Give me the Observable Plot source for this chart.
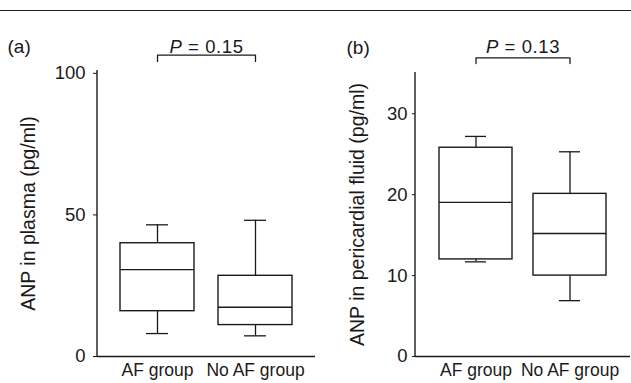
<!DOCTYPE html>
<html>
<head>
<meta charset="utf-8">
<script src="https://cdn.jsdelivr.net/npm/d3@7"></script>
<script src="https://cdn.jsdelivr.net/npm/@observablehq/plot@0.6"></script>
<style>
  html, body { margin: 0; padding: 0; background: #fff; }
  #fig { position: relative; width: 631px; height: 383px; overflow: hidden; background: #fff; }
  #rule { position: absolute; left: 0; top: 10px; width: 631px; height: 0; border-top: 1.5px solid #222; }
  #pa, #pb { position: absolute; top: 0; }
  #pa { left: 0; }
  #pb { left: 311px; }
</style>
</head>
<body>
<div id="fig">
  <div id="rule"></div>
  <div id="pa"></div>
  <div id="pb"></div>
</div>
<script>
// ---- data ----
const categories = ["AF group", "No AF group"];

// panel (a): ANP in plasma (pg/ml)
const plasmaLow    = [8.1, 7.3];
const plasmaQ1     = [16.0, 11.1];
const plasmaMedian = [30.7, 17.4];
const plasmaQ3     = [40.0, 28.5];
const plasmaHigh   = [46.5, 48.1];
const plasmaTicks  = [0, 50, 100];

// panel (b): ANP in pericardial fluid (pg/ml)
const periLow    = [11.7, 6.9];
const periQ1     = [12.0, 10.0];
const periMedian = [19.05, 15.2];
const periQ3     = [25.8, 20.1];
const periHigh   = [27.2, 25.3];
const periTicks  = [0, 10, 20, 30];

const panelLetters = ["(a)", "(b)"];
const pLabels = ["P = 0.15", "P = 0.13"];
const yLabels = ["ANP in plasma (pg/ml)", "ANP in pericardial fluid (pg/ml)"];

// annotation levels (data units) for bracket and p-value
const bracketA = {top: 106.4, leg: 104.2, text: 109.3};
const bracketB = {top: 36.9, leg: 36.2, text: 38.2};

const INK = "#1a1a1a";

function rows(lo, q1, med, q3, hi) {
  return categories.map((c, i) => ({cat: c, lo: lo[i], q1: q1[i], med: med[i], q3: q3[i], hi: hi[i]}));
}

function panel(opts) {
  const data = rows(...opts.values);
  const br = opts.bracket;
  const bracketPts = [
    {cat: categories[0], y: br.leg},
    {cat: categories[0], y: br.top},
    {cat: categories[1], y: br.top},
    {cat: categories[1], y: br.leg}
  ];
  const axisLine = (index, scales, values, dims) => {
    const line = document.createElementNS("http://www.w3.org/2000/svg", "line");
    line.setAttribute("x1", dims.marginLeft);
    line.setAttribute("x2", dims.marginLeft);
    line.setAttribute("y1", dims.marginTop);
    line.setAttribute("y2", dims.height - dims.marginBottom);
    line.setAttribute("stroke", INK);
    line.setAttribute("stroke-width", 1.4);
    return line;
  };
  const plot = Plot.plot({
    width: 320,
    height: 383,
    marginLeft: opts.marginLeft,
    marginRight: opts.marginRight,
    marginTop: opts.marginTop,
    marginBottom: 27,
    style: {fontFamily: "'Liberation Sans', Arial, sans-serif", fontSize: "17.5px", color: INK, background: "transparent", overflow: "visible"},
    x: {type: "band", domain: categories, paddingInner: opts.pi, paddingOuter: opts.po, tickSize: 0, tickPadding: 7, label: null},
    y: {domain: opts.domain, ticks: opts.ticks, tickSize: opts.tickSize, tickPadding: opts.tickPadding, label: null},
    marks: [
      Plot.ruleY([0], {stroke: INK, strokeWidth: 1.4}),
      axisLine,
      Plot.ruleX(data, {x: "cat", y1: "lo", y2: "hi", stroke: INK, strokeWidth: 1.3}),
      Plot.tickY(data, {x: "cat", y: "lo", stroke: INK, strokeWidth: 1.3, insetLeft: 26, insetRight: 26}),
      Plot.tickY(data, {x: "cat", y: "hi", stroke: INK, strokeWidth: 1.3, insetLeft: 26, insetRight: 26}),
      Plot.barY(data, {x: "cat", y1: "q1", y2: "q3", fill: "white", stroke: INK, strokeWidth: 1.4}),
      Plot.tickY(data, {x: "cat", y: "med", stroke: INK, strokeWidth: 1.3}),
      Plot.line(bracketPts, {x: "cat", y: "y", stroke: INK, strokeWidth: 1.3}),
      Plot.text([opts.pLabel], {y: [br.text], frameAnchor: "middle", textAnchor: "middle", text: d => d, fontSize: 18.5, fill: INK}),
      Plot.text([opts.letter], {y: [br.text], frameAnchor: "left", textAnchor: "start", dx: opts.letterDx, text: d => d, fontSize: 19, fill: INK}),
      Plot.text([opts.yLabel], {frameAnchor: "left", textAnchor: "middle", rotate: -90, dx: opts.labelDx, text: d => d, fontSize: 19.5, fill: INK})
    ]
  });
  plot.querySelectorAll("g[aria-label='y-axis tick label'] text, g[aria-label='y-axis'] text").forEach(t => t.setAttribute("font-size", "18.5"));
  // italic P
  plot.querySelectorAll("text").forEach(t => {
    if (t.textContent.startsWith("P = ")) {
      const rest = t.textContent.slice(1);
      t.textContent = "";
      const ts1 = document.createElementNS("http://www.w3.org/2000/svg", "tspan");
      ts1.setAttribute("font-style", "italic");
      ts1.textContent = "P";
      const ts2 = document.createElementNS("http://www.w3.org/2000/svg", "tspan");
      ts2.textContent = rest;
      t.appendChild(ts1); t.appendChild(ts2);
      t.setAttribute("letter-spacing", "0.6");
    }
  });
  return plot;
}

document.getElementById("pa").appendChild(panel({
  values: [plasmaLow, plasmaQ1, plasmaMedian, plasmaQ3, plasmaHigh],
  domain: [0, 101], ticks: plasmaTicks, tickSize: 4, tickPadding: 8,
  marginLeft: 97, marginRight: 5, marginTop: 70,
  pi: 0.245, po: 0.2345,
  bracket: bracketA, pLabel: pLabels[0], letter: panelLetters[0], yLabel: yLabels[0],
  letterDx: -90, labelDx: -69
}));

document.getElementById("pb").appendChild(panel({
  values: [periLow, periQ1, periMedian, periQ3, periHigh],
  domain: [0, 35.1], ticks: periTicks, tickSize: 3, tickPadding: 5,
  marginLeft: 104, marginRight: 1, marginTop: 72,
  pi: 0.223, po: 0.255,
  bracket: bracketB, pLabel: pLabels[1], letter: panelLetters[1], yLabel: yLabels[1],
  letterDx: -69, labelDx: -58
}));
</script>
</body>
</html>
